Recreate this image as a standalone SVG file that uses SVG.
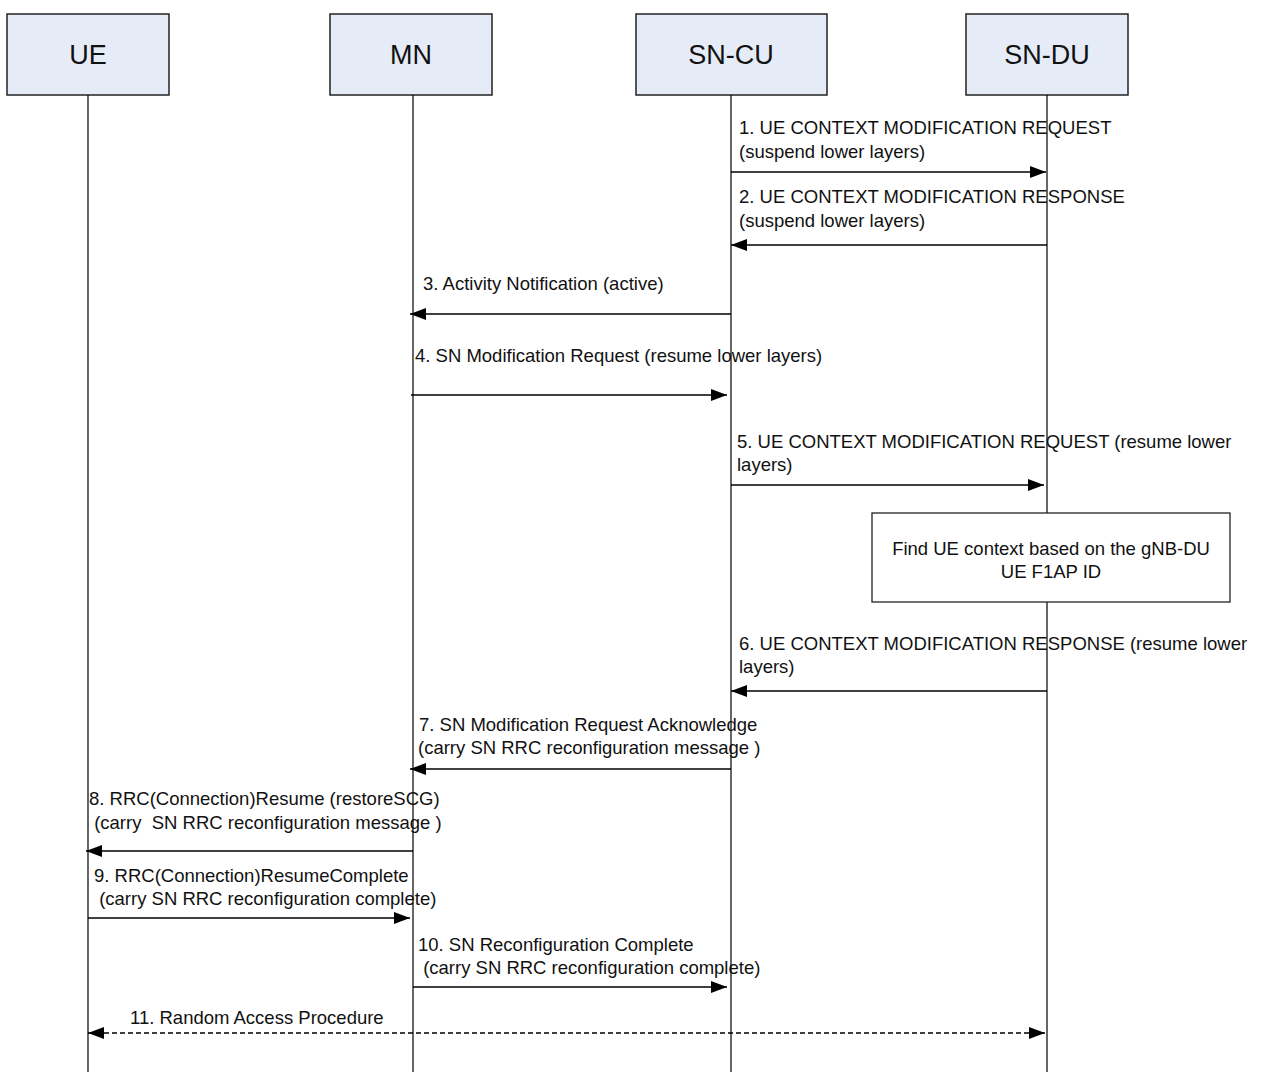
<svg xmlns="http://www.w3.org/2000/svg" width="1262" height="1072" viewBox="0 0 1262 1072">
  <style>
    .node { fill: #E6ECF7; stroke: #222; stroke-width: 1.5; }
    .note { fill: #fff; stroke: #222; stroke-width: 1.3; }
    .life { stroke: #000; stroke-width: 1.2; fill: none; }
    .msg { stroke: #000; stroke-width: 1.5; fill: none; }
    .dash { stroke-dasharray: 5 3; }
    .title { font-family: "Liberation Sans", Arial, sans-serif; font-size: 27px; fill: #111; text-anchor: middle; }
    .lbl { font-family: "Liberation Sans", Arial, sans-serif; font-size: 18.5px; fill: #111; }
    .mid { text-anchor: middle; }
  </style>
  <defs>
    <marker id="head" viewBox="0 0 16 12" refX="16" refY="6" markerWidth="16" markerHeight="12" markerUnits="userSpaceOnUse" orient="auto-start-reverse">
      <path d="M0,0 L16,6 L0,12 Z" fill="#000"/>
    </marker>
  </defs>

  <rect width="1262" height="1072" fill="#fff"/>

  <!-- participants -->
  <g id="ue">
    <rect class="node" x="7" y="14" width="162" height="81"/>
    <text class="title" x="88" y="64">UE</text>
  </g>
  <g id="mn">
    <rect class="node" x="330" y="14" width="162" height="81"/>
    <text class="title" x="411" y="64">MN</text>
  </g>
  <g id="sn-cu">
    <rect class="node" x="636" y="14" width="191" height="81"/>
    <text class="title" x="731" y="64">SN-CU</text>
  </g>
  <g id="sn-du">
    <rect class="node" x="966" y="14" width="162" height="81"/>
    <text class="title" x="1047" y="64">SN-DU</text>
  </g>

  <!-- lifelines -->
  <g id="lifelines">
    <line class="life" x1="88" y1="95" x2="88" y2="1072"/>
    <line class="life" x1="413" y1="95" x2="413" y2="1072"/>
    <line class="life" x1="731" y1="95" x2="731" y2="1072"/>
    <line class="life" x1="1047" y1="95" x2="1047" y2="1072"/>
  </g>

  <!-- processing note at SN-DU -->
  <g id="find-context">
    <rect class="note" x="872" y="513" width="358" height="89"/>
    <text class="lbl mid" x="1051" y="555">Find UE context based on the gNB-DU</text>
    <text class="lbl mid" x="1051" y="578">UE F1AP ID</text>
  </g>

  <!-- messages -->
  <g id="connectors">
    <line class="msg" x1="731" y1="172" x2="1046" y2="172" marker-end="url(#head)"/>
    <line class="msg" x1="1047" y1="245" x2="731" y2="245" marker-end="url(#head)"/>
    <line class="msg" x1="731" y1="314" x2="410" y2="314" marker-end="url(#head)"/>
    <line class="msg" x1="411" y1="395" x2="727" y2="395" marker-end="url(#head)"/>
    <line class="msg" x1="731" y1="485" x2="1044" y2="485" marker-end="url(#head)"/>
    <line class="msg" x1="1047" y1="691" x2="731" y2="691" marker-end="url(#head)"/>
    <line class="msg" x1="731" y1="769" x2="410" y2="769" marker-end="url(#head)"/>
    <line class="msg" x1="413" y1="851" x2="86" y2="851" marker-end="url(#head)"/>
    <line class="msg" x1="88" y1="918" x2="410" y2="918" marker-end="url(#head)"/>
    <line class="msg" x1="413" y1="987" x2="727" y2="987" marker-end="url(#head)"/>
    <line class="msg dash" x1="88" y1="1033" x2="1045" y2="1033" marker-start="url(#head)" marker-end="url(#head)"/>
  </g>

  <!-- message labels -->
  <g id="labels">
    <text class="lbl" x="739" y="134">1. UE CONTEXT MODIFICATION REQUEST</text>
    <text class="lbl" x="739" y="158">(suspend lower layers)</text>
    <text class="lbl" x="739" y="203">2. UE CONTEXT MODIFICATION RESPONSE</text>
    <text class="lbl" x="739" y="227">(suspend lower layers)</text>
    <text class="lbl" x="423" y="290">3. Activity Notification (active)</text>
    <text class="lbl" x="415" y="362">4. SN Modification Request (resume lower layers)</text>
    <text class="lbl" x="737" y="448">5. UE CONTEXT MODIFICATION REQUEST (resume lower</text>
    <text class="lbl" x="737" y="471">layers)</text>
    <text class="lbl" x="739" y="650">6. UE CONTEXT MODIFICATION RESPONSE (resume lower</text>
    <text class="lbl" x="739" y="673">layers)</text>
    <text class="lbl" x="419" y="731">7. SN Modification Request Acknowledge</text>
    <text class="lbl" x="418" y="754">(carry SN RRC reconfiguration message )</text>
    <text class="lbl" x="89" y="805">8. RRC(Connection)Resume (restoreSCG)</text>
    <text class="lbl" x="89" y="829" xml:space="preserve"> (carry  SN RRC reconfiguration message )</text>
    <text class="lbl" x="94" y="882">9. RRC(Connection)ResumeComplete</text>
    <text class="lbl" x="94" y="905" xml:space="preserve"> (carry SN RRC reconfiguration complete)</text>
    <text class="lbl" x="418" y="951">10. SN Reconfiguration Complete</text>
    <text class="lbl" x="418" y="974" xml:space="preserve"> (carry SN RRC reconfiguration complete)</text>
    <text class="lbl" x="130" y="1024">11. Random Access Procedure</text>
  </g>
</svg>
